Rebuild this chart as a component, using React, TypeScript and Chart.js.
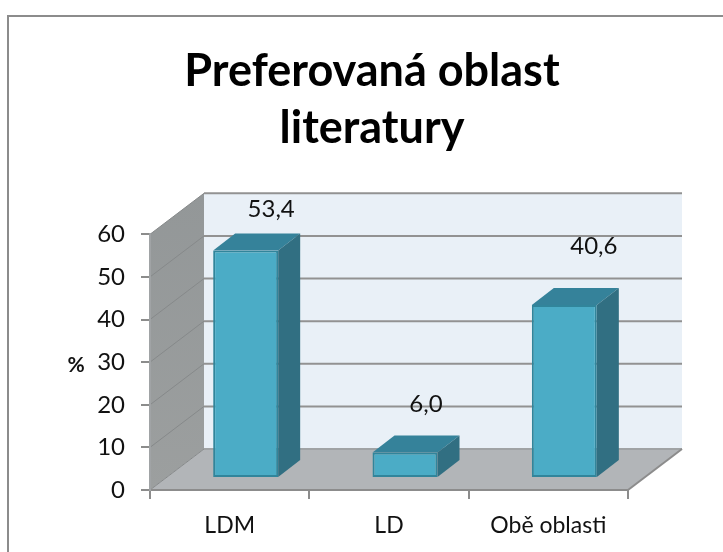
import React, { useEffect, useRef } from "react";
import { Chart, registerables } from "chart.js";

Chart.register(...registerables);

const titleLines = ["Preferovaná oblast", "literatury"];
const categories = ["LDM", "LD", "Obě oblasti"];
const values = [53.4, 6.0, 40.6];
const yTitle = "%";

// styling / 3D-projection constants
const FONT = "Lato, 'Open Sans', sans-serif";
const WALL = { dx: 54, dy: -41 };
const BAR_SHIFT = { dx: 16, dy: -12 };
const BAR_DEPTH = { dx: 22, dy: -17 };
const LABEL_NUDGE = [
  { dx: 25.5, dy: -41 },
  { dx: 21, dy: -48 },
  { dx: 29.5, dy: -59 },
];

const poly = (ctx: CanvasRenderingContext2D, pts: number[][], fill: string) => {
  ctx.beginPath();
  pts.forEach(([x, y], i) => (i ? ctx.lineTo(x, y) : ctx.moveTo(x, y)));
  ctx.closePath();
  ctx.fillStyle = fill;
  ctx.fill();
};
const line = (ctx: CanvasRenderingContext2D, x1: number, y1: number, x2: number, y2: number, color: string, w: number) => {
  ctx.beginPath();
  ctx.moveTo(x1, y1);
  ctx.lineTo(x2, y2);
  ctx.strokeStyle = color;
  ctx.lineWidth = w;
  ctx.stroke();
};

const scene3d = {
  id: "scene3d",
  beforeDraw(chart: any) {
    const { ctx, chartArea: a, scales } = chart;
    const { dx, dy } = WALL;
    ctx.save();
    // page frame
    ctx.beginPath();
    ctx.moveTo(723, 16);
    ctx.lineTo(8, 16);
    ctx.lineTo(8, 552);
    ctx.strokeStyle = "#8c8c8c";
    ctx.lineWidth = 2;
    ctx.stroke();
    // back wall
    poly(ctx, [[a.left + dx, a.top + dy], [a.right + dx, a.top + dy], [a.right + dx, a.bottom + dy], [a.left + dx, a.bottom + dy]], "#e9f0f7");
    // left wall
    const g = ctx.createLinearGradient(0, a.top + dy, 0, a.bottom);
    g.addColorStop(0, "#939798");
    g.addColorStop(1, "#9c9f9f");
    poly(ctx, [[a.left, a.top], [a.left + dx, a.top + dy], [a.left + dx, a.bottom + dy], [a.left, a.bottom]], g as any);
    // floor
    poly(ctx, [[a.left, a.bottom], [a.right, a.bottom], [a.right + dx, a.bottom + dy], [a.left + dx, a.bottom + dy]], "#b2b5b8");
    // gridlines
    scales.y.ticks.forEach((t: any) => {
      const y = scales.y.getPixelForValue(t.value);
      line(ctx, a.left, y, a.left + dx, y + dy, "#86898a", 1);
      line(ctx, a.left + dx, y + dy, a.right + dx, y + dy, t.value === 0 ? "#a0a3a5" : "#929292", 2);
    });
    line(ctx, a.right, a.bottom, a.right + dx, a.bottom + dy, "#8c8c8c", 2);
    ctx.restore();
  },
  beforeDatasetDraw(chart: any) {
    chart.ctx.save();
    chart.ctx.translate(BAR_SHIFT.dx, BAR_SHIFT.dy);
  },
  afterDatasetDraw(chart: any, args: any) {
    const { ctx } = chart;
    const { dx, dy } = BAR_DEPTH;
    args.meta.data.forEach((b: any) => {
      const l = b.x - b.width / 2;
      const r = b.x + b.width / 2;
      poly(ctx, [[l, b.y], [r, b.y], [r + dx, b.y + dy], [l + dx, b.y + dy]], "#35829a");
      poly(ctx, [[r, b.y], [r + dx, b.y + dy], [r + dx, b.base + dy], [r, b.base]], "#316f82");
    });
    ctx.restore();
  },
  afterDatasetsDraw(chart: any) {
    const { ctx, scales } = chart;
    ctx.save();
    ctx.fillStyle = "#111";
    ctx.textAlign = "center";
    ctx.textBaseline = "middle";
    ctx.font = `24px ${FONT}`;
    const meta = chart.getDatasetMeta(0);
    values.forEach((v, i) => {
      const b = meta.data[i];
      const n = LABEL_NUDGE[i];
      ctx.fillText(v.toFixed(1).replace(".", ","), b.x + BAR_SHIFT.dx + n.dx, b.y + BAR_SHIFT.dy + n.dy);
    });
    ctx.font = `bold 21px ${FONT}`;
    ctx.fillText(yTitle, 76, scales.y.getPixelForValue(30) + 3);
    ctx.restore();
  },
};

export default function App() {
  const ref = useRef<HTMLCanvasElement>(null);
  useEffect(() => {
    document.body.style.margin = "0";
    const chart = new Chart(ref.current!, {
      type: "bar",
      data: {
        labels: categories,
        datasets: [
          {
            data: values,
            backgroundColor: "#4bacc6",
            borderColor: "#31859b",
            borderWidth: 2,
            borderSkipped: false,
            barPercentage: 0.408,
            categoryPercentage: 1,
          },
        ],
      },
      options: {
        responsive: false,
        animation: false,
        layout: { padding: { left: 116, right: 95, top: 0, bottom: 0 } },
        plugins: {
          legend: { display: false },
          tooltip: { enabled: false },
          title: {
            display: true,
            text: titleLines,
            color: "#000",
            font: { family: FONT, size: 45, weight: "bold", lineHeight: 1.27 },
            padding: { top: 43, bottom: 77 },
          },
        },
        scales: {
          x: {
            afterFit: (s: any) => { s.height = 62; },
            grid: { drawOnChartArea: false, color: "#8c8c8c", lineWidth: 2, tickLength: 9 },
            border: { color: "#8c8c8c", width: 2 },
            ticks: { color: "#111", padding: 13, maxRotation: 0, font: { family: FONT, size: 23 } },
          },
          y: {
            min: 0,
            max: 60,
            afterFit: (s: any) => {
              s.width = 34;
              // the tick labels sit left of the narrow axis box: do not clip them to it
              s._computeLabelArea = () => undefined;
            },
            grid: { drawOnChartArea: false, color: "#8c8c8c", lineWidth: 2, tickLength: 9 },
            border: { color: "#a0a3a5", width: 2 },
            ticks: { stepSize: 10, color: "#111", padding: 16, font: { family: FONT, size: 24 } },
          },
        },
      },
      plugins: [scene3d],
    } as any);
    return () => chart.destroy();
  }, []);
  return <canvas ref={ref} width={723} height={552} style={{ display: "block" }} />;
}
